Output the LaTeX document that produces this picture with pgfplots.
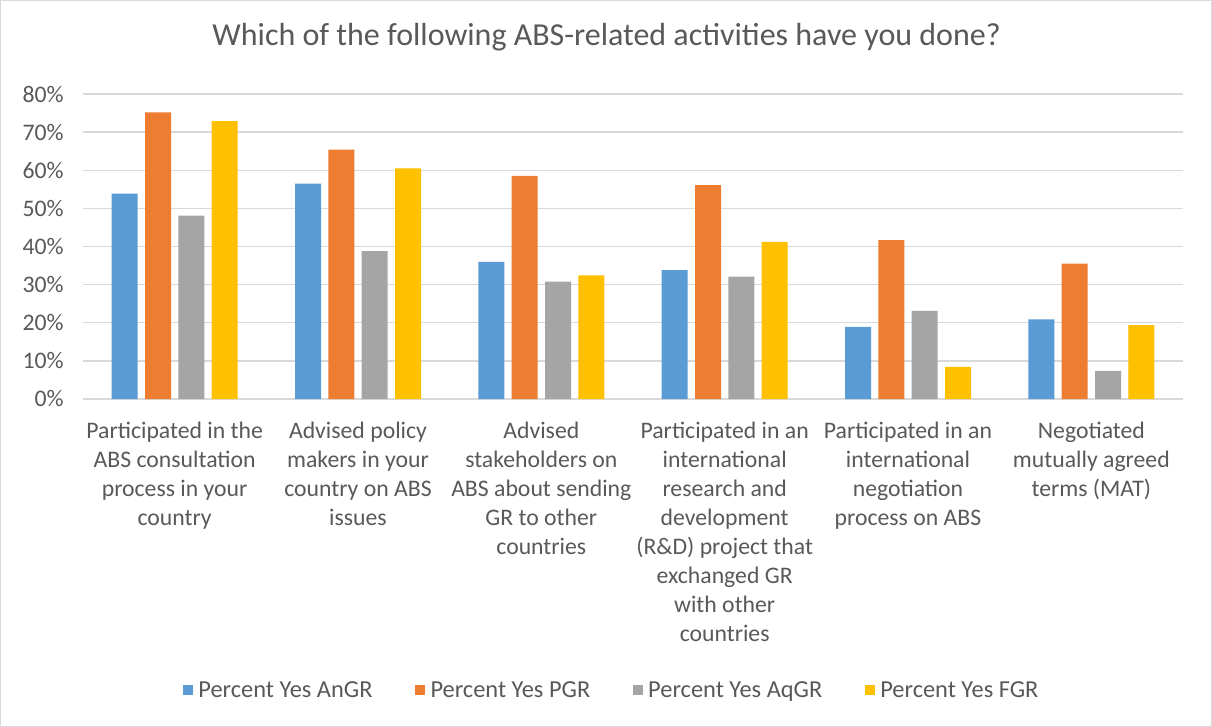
\documentclass[border=0pt]{standalone}
\usepackage{fontspec}
\setmainfont{Carlito}
\usepackage{pgfplots}
\pgfplotsset{compat=1.18}
\definecolor{cBlue}{HTML}{5B9BD5}
\definecolor{cOrange}{HTML}{ED7D31}
\definecolor{cGray}{HTML}{A5A5A5}
\definecolor{cYellow}{HTML}{FFC000}
\definecolor{cText}{HTML}{595959}
\definecolor{cGrid}{HTML}{D9D9D9}
\begin{document}
\begin{tikzpicture}
\useasboundingbox[fill=white] (-62.25pt,-246pt) rectangle (846.75pt,299.25pt);
\draw[cGrid, line width=0.75pt] (-61.5pt,-245.25pt) rectangle (846pt,298.5pt);
\begin{axis}[
  at={(0,0)}, anchor=south west,
  scale only axis,
  width=825pt, height=228.75pt,
  ybar=5.5pt, bar width=19.5pt,
  xmin=-0.5, xmax=5.5, ymin=0, ymax=80,
  xtick={0,1,2,3,4,5},
  xticklabels={
    {Participated in the\\ABS consultation\\process in your\\country},
    {Advised policy\\makers in your\\country on ABS\\issues},
    {Advised\\stakeholders on\\ABS about sending\\GR to other\\countries},
    {Participated in an\\international\\research and\\development\\(R\&D) project that\\exchanged GR\\with other\\countries},
    {Participated in an\\international\\negotiation\\process on ABS},
    {Negotiated\\mutually agreed\\terms (MAT)}},
  ytick={0,10,...,80},
  yticklabel={\pgfmathprintnumber{\tick}\%},
  /pgf/number format/assume math mode=true,
  axis line style={draw=none},
  major tick length=0pt,
  ymajorgrids, grid style={cGrid, line width=1.1pt},
  xticklabel style={align=center, font=\fontsize{17.8}{21.75}\selectfont, text=cText, yshift=-13.5pt},
  yticklabel style={font=\fontsize{17.8}{20}\selectfont, text=cText, xshift=-11pt},
  title={Which of the following ABS-related activities have you done?},
  title style={at={(0.476,1.161)}, anchor=center, font=\fontsize{24}{28}\selectfont, text=cText},
  legend style={at={(0.481,-0.955)}, anchor=center, draw=none, font=\fontsize{18.3}{20}\selectfont, text=cText,
    legend columns=4, /tikz/every even column/.append style={column sep=30pt}},
  legend image code/.code={\fill[#1] (0pt,-3.75pt) rectangle (7.5pt,3.75pt); \path (0pt,0pt) -- (9.5pt,0pt);},
  clip=false,
]
\addplot[fill=cBlue, draw=none] coordinates {(0,53.9) (1,56.5) (2,36.0) (3,33.8) (4,18.9) (5,20.9)};
\addplot[fill=cOrange, draw=none] coordinates {(0,75.2) (1,65.4) (2,58.5) (3,56.1) (4,41.7) (5,35.5)};
\addplot[fill=cGray, draw=none] coordinates {(0,48.1) (1,38.8) (2,30.8) (3,32.1) (4,23.1) (5,7.4)};
\addplot[fill=cYellow, draw=none] coordinates {(0,72.9) (1,60.5) (2,32.4) (3,41.2) (4,8.4) (5,19.4)};
\legend{Percent Yes AnGR, Percent Yes PGR, Percent Yes AqGR, Percent Yes FGR}
\end{axis}
\end{tikzpicture}
\end{document}
